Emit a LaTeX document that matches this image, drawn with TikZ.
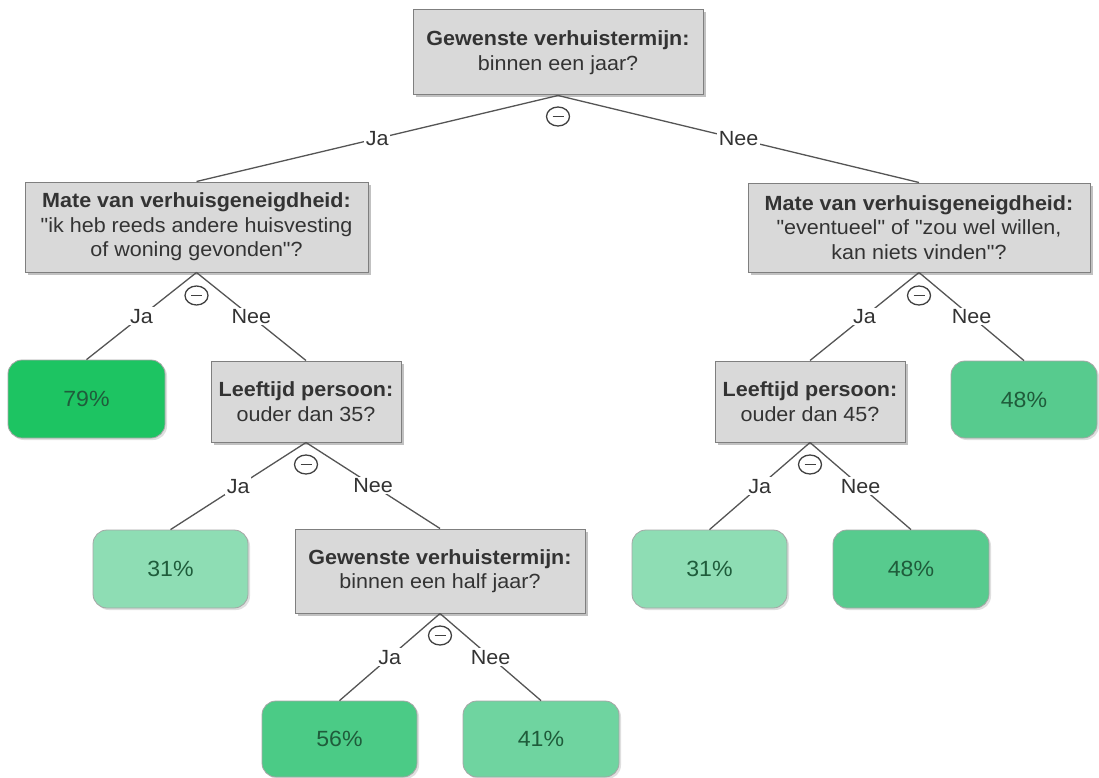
\documentclass[tikz,border=0pt]{standalone}
\usepackage{fontspec}
\newfontfamily\diagfont{Liberation Sans}[FakeStretch=1.05]
\usetikzlibrary{shapes.geometric,shadows}
\definecolor{boxfill}{HTML}{D9D9D9}
\definecolor{boxdraw}{HTML}{7F7F7F}
\definecolor{txt}{HTML}{333333}
\definecolor{leaftxt}{HTML}{1F5C3B}
\definecolor{linec}{HTML}{555555}
\definecolor{markc}{HTML}{404040}
\definecolor{gA}{HTML}{1DC462}
\definecolor{gB}{HTML}{4BCB86}
\definecolor{gC}{HTML}{57CB8E}
\definecolor{gD}{HTML}{6FD4A0}
\definecolor{gE}{HTML}{8EDDB4}
\begin{document}
\begin{tikzpicture}[x=1pt,y=-1pt,
  every node/.style={font=\diagfont\fontsize{20.5}{24.5}\selectfont},
  qbox/.style={rectangle, draw=boxdraw, line width=1pt, fill=boxfill, text=txt,
    align=center, inner sep=0pt,
    drop shadow={shadow xshift=2.5pt, shadow yshift=-2.5pt, opacity=0.4, fill=black!60}},
  leaf/.style={rectangle, rounded corners=14pt, draw=black!35, line width=0.8pt,
    text=leaftxt, align=center, inner sep=0pt,
    font=\diagfont\fontsize{22}{26}\selectfont,
    drop shadow={shadow xshift=2pt, shadow yshift=-2pt, opacity=0.25, fill=black!50}},
  conn/.style={draw=linec, line width=1.3pt},
  lbl/.style={fill=white, text=txt, inner sep=1.5pt},
  mk/.style={ellipse, draw=markc, fill=white, line width=1.3pt,
    minimum width=23pt, minimum height=19pt, inner sep=0pt,
    path picture={\draw[line width=1.3pt, markc]
      ([xshift=-5.5pt]path picture bounding box.center) --
      ([xshift=5.5pt]path picture bounding box.center);}}
]
\fill[white] (0,0) rectangle (1099,778);
\useasboundingbox (0,0) rectangle (1099,778);

% question boxes
\node[qbox, minimum width=290pt, minimum height=85pt] (root) at (558,52.5)
  {\textbf{Gewenste verhuistermijn:}\\binnen een jaar?};
\node[qbox, minimum width=343pt, minimum height=90pt] (mL) at (196.5,227)
  {\textbf{Mate van verhuisgeneigdheid:}\\"ik heb reeds andere huisvesting\\of woning gevonden"?};
\node[qbox, minimum width=342pt, minimum height=89pt] (mR) at (919,227.5)
  {\textbf{Mate van verhuisgeneigdheid:}\\"eventueel" of "zou wel willen,\\kan niets vinden"?};
\node[qbox, minimum width=190pt, minimum height=81pt] (a35) at (306,401.5)
  {\textbf{Leeftijd persoon:}\\ouder dan 35?};
\node[qbox, minimum width=190pt, minimum height=81pt] (a45) at (810,401.5)
  {\textbf{Leeftijd persoon:}\\ouder dan 45?};
\node[qbox, minimum width=290pt, minimum height=84pt] (half) at (440,571)
  {\textbf{Gewenste verhuistermijn:}\\binnen een half jaar?};

% leaves
\node[leaf, fill=gA, minimum width=157pt, minimum height=78pt] (l79) at (86.5,399) {79\%};
\node[leaf, fill=gC, minimum width=146pt, minimum height=77pt] (r48) at (1024,399.5) {48\%};
\node[leaf, fill=gE, minimum width=155pt, minimum height=78pt] (l31) at (170.5,569) {31\%};
\node[leaf, fill=gE, minimum width=155pt, minimum height=78pt] (r31) at (709.5,569) {31\%};
\node[leaf, fill=gC, minimum width=156pt, minimum height=78pt] (r48b) at (911,569) {48\%};
\node[leaf, fill=gB, minimum width=155pt, minimum height=76pt] (l56) at (339.5,739) {56\%};
\node[leaf, fill=gD, minimum width=156pt, minimum height=76pt] (l41) at (541,739) {41\%};

% connectors
\draw[conn] (root.south) -- node[lbl]{Ja} (mL.north);
\draw[conn] (root.south) -- node[lbl]{Nee} (mR.north);
\draw[conn] (mL.south) -- node[lbl]{Ja} (l79.north);
\draw[conn] (mL.south) -- node[lbl]{Nee} (a35.north);
\draw[conn] (mR.south) -- node[lbl]{Ja} (a45.north);
\draw[conn] (mR.south) -- node[lbl]{Nee} (r48.north);
\draw[conn] (a35.south) -- node[lbl]{Ja} (l31.north);
\draw[conn] (a35.south) -- node[lbl]{Nee} (half.north);
\draw[conn] (a45.south) -- node[lbl]{Ja} (r31.north);
\draw[conn] (a45.south) -- node[lbl]{Nee} (r48b.north);
\draw[conn] (half.south) -- node[lbl]{Ja} (l56.north);
\draw[conn] (half.south) -- node[lbl]{Nee} (l41.north);

% collapse markers
\node[mk] (k1) at ([yshift=-21pt]root.south) {};
\node[mk] (k2) at ([yshift=-23pt]mL.south) {};
\node[mk] (k3) at ([yshift=-23pt]mR.south) {};
\node[mk] (k4) at ([yshift=-22pt]a35.south) {};
\node[mk] (k5) at ([yshift=-22pt]a45.south) {};
\node[mk] (k6) at ([yshift=-22pt]half.south) {};
\end{tikzpicture}
\end{document}
